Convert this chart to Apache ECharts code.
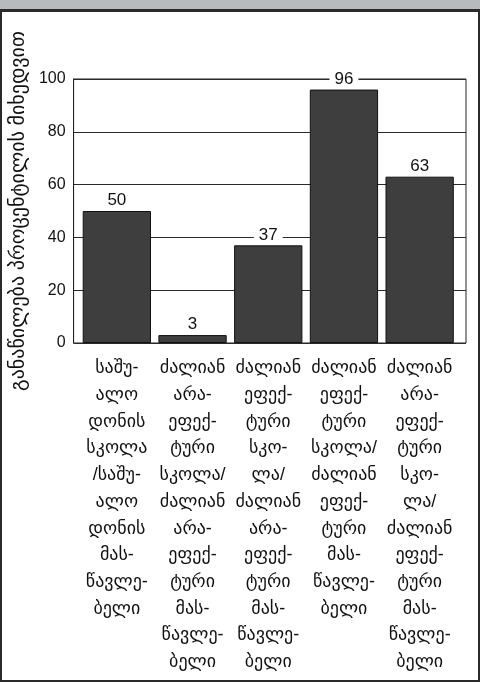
<!DOCTYPE html>
<html>
<head>
<meta charset="utf-8">
<script src="https://cdn.jsdelivr.net/npm/echarts@6/dist/echarts.min.js"></script>
<style>
  html, body { margin: 0; padding: 0; background: #fff; }
  #percentileChart { width: 480px; height: 682px; }
</style>
</head>
<body>
<div id="percentileChart"></div>
<script>
// categories (school / teacher effectiveness groups)
var categories = [
    'საშუ-\nალო\nდონის\nსკოლა\n/საშუ-\nალო\nდონის\nმას-\nწავლე-\nბელი',
    'ძალიან\nარა-\nეფექ-\nტური\nსკოლა/\nძალიან\nარა-\nეფექ-\nტური\nმას-\nწავლე-\nბელი',
    'ძალიან\nეფექ-\nტური\nსკო-\nლა/\nძალიან\nარა-\nეფექ-\nტური\nმას-\nწავლე-\nბელი',
    'ძალიან\nეფექ-\nტური\nსკოლა/\nძალიან\nეფექ-\nტური\nმას-\nწავლე-\nბელი',
    'ძალიან\nარა-\nეფექ-\nტური\nსკო-\nლა/\nძალიან\nეფექ-\nტური\nმას-\nწავლე-\nბელი'
];
var percentiles = [50, 3, 37, 96, 63];
var yTicks = [0, 20, 40, 60, 80, 100];
var yTitle = 'განაწილება პროცენტილის მიხედვით';

var chartDom = document.getElementById('percentileChart');
var percentileChart = echarts.init(chartDom);

var fontFam = '"Liberation Sans", "DejaVu Sans", sans-serif';

var option = {
    animation: false,
    backgroundColor: '#fff',
    graphic: [
        // header band
        { type: 'rect', z: 100, shape: { x: 0, y: 0, width: 480, height: 9 }, style: { fill: '#b9babc' } },
        { type: 'rect', z: 100, shape: { x: 0, y: 9, width: 480, height: 3 }, style: { fill: '#2a2a2a' } },
        // page frame
        { type: 'rect', z: 100, shape: { x: 0, y: 12, width: 2, height: 670 }, style: { fill: '#2a2a2a' } },
        { type: 'rect', z: 100, shape: { x: 478, y: 12, width: 2, height: 670 }, style: { fill: '#2a2a2a' } },
        { type: 'rect', z: 100, shape: { x: 0, y: 680, width: 480, height: 2 }, style: { fill: '#2a2a2a' } }
    ],
    grid: [
        // frame + gridlines
        { left: 71, right: 14, top: 79, bottom: 339, show: true, borderColor: '#222', borderWidth: 1 },
        // bars
        { left: 79, right: 22.5, top: 79, bottom: 339 }
    ],
    xAxis: [
        { gridIndex: 0, type: 'category', data: categories, show: false },
        {
            gridIndex: 1, type: 'category', data: categories,
            axisLine: { show: false }, axisTick: { show: false },
            axisLabel: {
                interval: 0, margin: 12, color: '#111',
                fontFamily: fontFam, fontSize: 18, lineHeight: 26.7
            }
        }
    ],
    yAxis: [
        {
            gridIndex: 0, type: 'value', min: yTicks[0], max: yTicks[yTicks.length - 1], interval: 20,
            name: yTitle, nameLocation: 'middle', nameGap: 34,
            nameTextStyle: { fontFamily: fontFam, fontSize: 20, color: '#111' },
            axisLine: { show: true, lineStyle: { color: '#222', width: 1 } },
            axisTick: { show: false },
            axisLabel: { margin: 8, color: '#111', fontFamily: fontFam, fontSize: 16 },
            splitLine: { show: true, lineStyle: { color: '#2a2a2a', width: 1 } }
        },
        { gridIndex: 1, type: 'value', min: 0, max: 100, show: false }
    ],
    series: [
        {
            type: 'bar',
            xAxisIndex: 1, yAxisIndex: 1,
            data: percentiles,
            barCategoryGap: '9.8%',
            itemStyle: { color: '#3e3e3e', borderColor: '#111', borderWidth: 1 },
            label: {
                show: true, position: 'top', distance: 2,
                color: '#111', fontFamily: fontFam, fontSize: 17,
                backgroundColor: '#fff', padding: [0, 5]
            }
        }
    ]
};

percentileChart.setOption(option);

window.onresize = function () {
    percentileChart.resize();
};
</script>
</body>
</html>
